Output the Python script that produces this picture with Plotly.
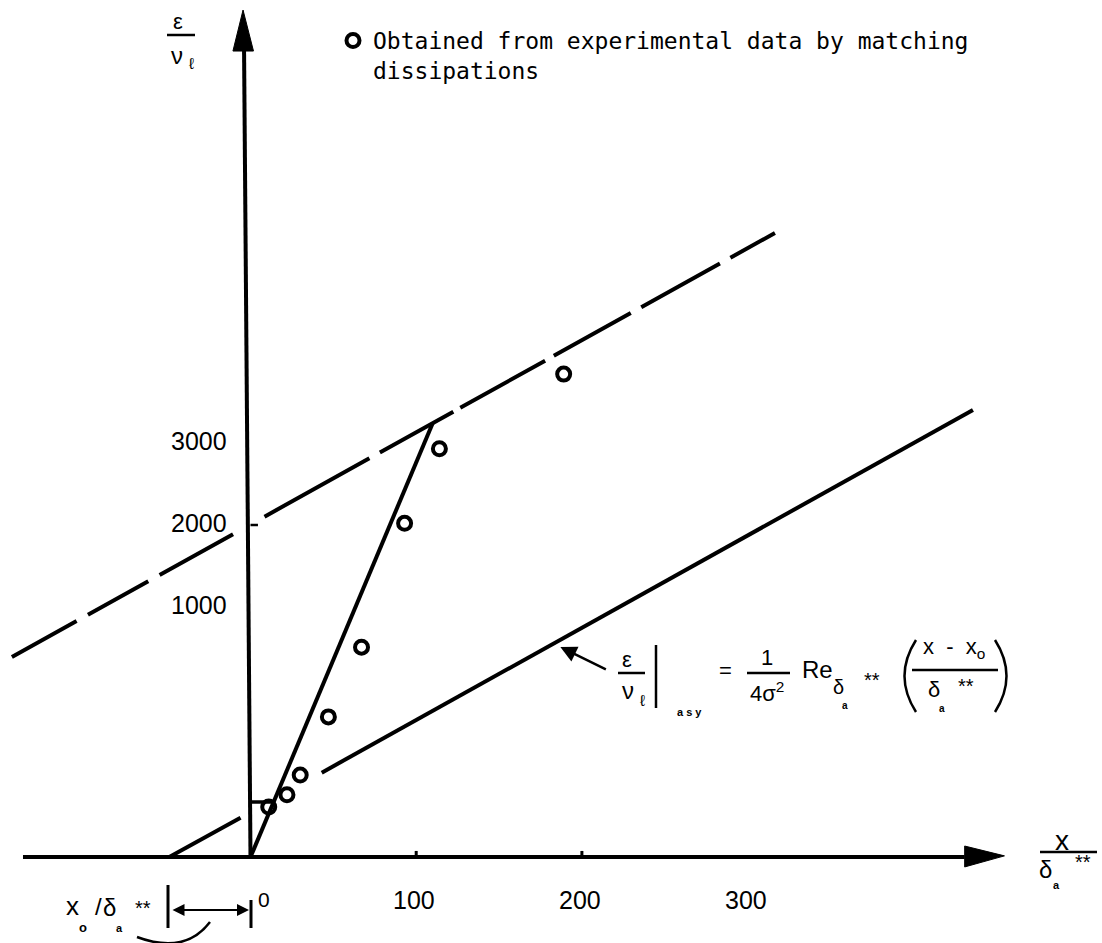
import plotly.graph_objects as go

# ---------------- data ----------------
X_TICKS = [100, 200, 300]
X_TICK_LABELS = ["100", "200", "300"]
Y_TICKS = [1000, 2000, 3000]
Y_TICK_LABELS = ["1000", "2000", "3000"]

# experimental points (x/delta**, eps/nu)
PT_X = [11, 22, 30, 47, 67, 93, 114, 189]
PT_Y = [-1440, -1290, -1050, -340, 510, 2020, 2930, 3840]

# level at which the abscissa is drawn
Y_BASE = -2050

# steep solid line from origin
STEEP_X = [0, 110]
STEEP_Y = [-2050, 3245]
# short horizontal marker from ordinate to steep line
HMARK_X = [0, 13.6]
HMARK_Y = [-1378, -1378]

# asymptote (solid, with a gap near the origin)
ASY1_X = [-49, -6]
ASY1_Y = [-2050, -1571]
ASY2_X = [43, 436]
ASY2_Y = [-1020, 3402]

# parallel dashed line
DASH_X = [-144, 316.5]
DASH_Y = [390, 5561]

# ---------------- geometry / layout ----------------
W, H = 1102, 943
X0_PX, X_SCALE = 250.5, 1.657      # px of x=0, px per unit
Y0_PX, Y_SCALE = 689.0, 0.082      # px of y=0, px per unit
X_RANGE = [(0 - X0_PX) / X_SCALE, (W - X0_PX) / X_SCALE]
Y_RANGE = [(Y0_PX - H) / Y_SCALE, (Y0_PX - 0) / Y_SCALE]

SANS = "Liberation Sans, Arial, sans-serif"
MONO = "DejaVu Sans Mono, monospace"
LW = 4


def P(px, py):
    return px / W, 1 - py / H


fig = go.Figure()


def line(xs, ys, width=LW, dash=None):
    fig.add_trace(go.Scatter(x=xs, y=ys, mode="lines", showlegend=False,
                             hoverinfo="skip",
                             line=dict(color="black", width=width, dash=dash)))


# axes (drawn as lines with filled arrowheads)
Y_TOP = 7817
line([0, -3.9], [Y_BASE, Y_TOP])
fig.add_trace(go.Scatter(x=[-4.5, -10.6, 1.8, -4.5], y=[8280, 7780, 7780, 8280],
                         mode="lines", fill="toself", fillcolor="black",
                         line=dict(color="black", width=1), showlegend=False,
                         hoverinfo="skip"))
X_LEFT, X_ARROW_BASE, X_TIP = -137.3, 431, 455
line([X_LEFT, X_ARROW_BASE], [Y_BASE, Y_BASE])
fig.add_trace(go.Scatter(x=[X_TIP, X_ARROW_BASE, X_ARROW_BASE, X_TIP],
                         y=[-2035, -1915, -2170, -2035],
                         mode="lines", fill="toself", fillcolor="black",
                         line=dict(color="black", width=1), showlegend=False,
                         hoverinfo="skip"))

# small tick marks
for v in X_TICKS[:2]:
    line([v, v], [Y_BASE, Y_BASE + 75], width=3)
line([0, 4.5], [2000, 2000], width=2.5)

# lines
line(STEEP_X, STEEP_Y)
line(HMARK_X, HMARK_Y, width=3.5)
line(ASY1_X, ASY1_Y)
line(ASY2_X, ASY2_Y)
line(DASH_X, DASH_Y,
     dash="74px,13px,69px,13px,84px,36px,120px,12px,84px,8px,97px,10px,88px,12px,90px,12px,200px")

# points
fig.add_trace(go.Scatter(
    x=PT_X, y=PT_Y, mode="markers",
    name="Obtained from experimental data by matching<br>dissipations",
    marker=dict(symbol="circle-open", size=13, color="black",
                line=dict(color="black", width=4)),
    showlegend=True))

ann = []
# tick labels
for v, t in zip(Y_TICKS, Y_TICK_LABELS):
    ann.append(dict(x=0, y=v, xref="x", yref="y", text=t, showarrow=False,
                    xanchor="right", yanchor="middle", xshift=-22, yshift=2,
                    font=dict(family=SANS, size=25, color="black")))
for v, t in zip(X_TICKS, X_TICK_LABELS):
    ann.append(dict(x=v, y=Y_BASE, xref="x", yref="y", text=t, showarrow=False,
                    xanchor="center", yanchor="middle", yshift=-43, xshift=-2,
                    font=dict(family=SANS, size=25, color="black")))


def txt(px, py, s, size=24, family=SANS, **kw):
    x, y = P(px, py)
    d = dict(x=x, y=y, xref="paper", yref="paper", text=s, showarrow=False,
             xanchor="center", yanchor="middle",
             font=dict(family=family, size=size, color="black"))
    d.update(kw)
    ann.append(d)


shapes = []


def seg(x1, y1, x2, y2, w=2.5):
    a, b = P(x1, y1)
    c, d = P(x2, y2)
    shapes.append(dict(type="line", xref="paper", yref="paper", x0=a, y0=b,
                       x1=c, y1=d, line=dict(color="black", width=w)))


def curve(p1, pc, p2, w=2.5):
    a = P(*p1)
    c = P(*pc)
    b = P(*p2)
    shapes.append(dict(type="path", xref="paper", yref="paper",
                       path=f"M {a[0]},{a[1]} Q {c[0]},{c[1]} {b[0]},{b[1]}",
                       line=dict(color="black", width=w)))


# y-axis label
txt(178, 22, "ε", 22)
seg(167, 35, 195, 35, 2.5)
txt(177, 55, "ν", 24)
txt(191, 64, "ℓ", 16)

# x-axis label
txt(1062, 840, "x", 28)
seg(1040, 852, 1097, 852, 2.5)
txt(1045, 869, "δ", 24)
txt(1056, 885, "<b>a</b>", 11)
txt(1083, 862, "**", 20)

# x0 annotation at lower left
txt(72, 906, "x", 26)
txt(83, 927, "<b>o</b>", 13)
txt(98, 906, "/", 24)
txt(110, 907, "δ", 24)
txt(119, 928, "<b>a</b>", 11)
txt(143, 908, "**", 20)
seg(168, 885, 168, 928, 3)
seg(251, 900, 251, 928, 3)
txt(264, 899, "0", 21)
ax0, ay0 = P(249, 910)
ann.append(dict(x=ax0, y=ay0, xref="paper", yref="paper", text="",
                showarrow=True, ax=-78, ay=0, arrowside="end+start",
                arrowhead=2, startarrowhead=2, arrowsize=1.2, startarrowsize=1.2,
                arrowwidth=2, arrowcolor="black"))
curve((137, 937), (185, 955), (210, 922))

# equation with arrow
ann.append(dict(x=187, y=512, xref="x", yref="y", text="", showarrow=True,
                ax=47, ay=23, arrowhead=2, arrowsize=1.3, arrowwidth=2.5,
                arrowcolor="black"))
txt(627, 659, "ε", 22)
seg(618, 673, 645, 673, 2.5)
txt(628, 690, "ν", 24)
txt(642, 700, "ℓ", 16)
seg(656, 645, 656, 708, 2.5)
txt(689, 712, "<b>a s y</b>", 11)
txt(725, 670, "=", 22)
txt(767, 657, "1", 22)
seg(747, 673, 790, 673, 2.5)
txt(767, 692, "4σ<sup>2</sup>", 22)
txt(817, 669, "Re", 24)
txt(838, 687, "δ", 20)
txt(845, 705, "<b>a</b>", 10)
txt(872, 680, "**", 20)
curve((916, 640), (893, 676), (916, 712), 2.5)
curve((995, 640), (1018, 676), (995, 712), 2.5)
txt(954, 648, "x  -  x<sub>o</sub>", 22)
seg(912, 670, 998, 670, 2.5)
txt(934, 689, "δ", 22)
txt(942, 708, "<b>a</b>", 10)
txt(966, 686, "**", 20)

lx, ly = P(333, 19)
fig.update_layout(
    width=W, height=H,
    margin=dict(l=0, r=0, t=0, b=0),
    paper_bgcolor="white", plot_bgcolor="white",
    xaxis=dict(range=X_RANGE, visible=False, fixedrange=True),
    yaxis=dict(range=Y_RANGE, visible=False, fixedrange=True),
    showlegend=True,
    legend=dict(x=lx, y=ly, xanchor="left", yanchor="top", valign="top",
                bgcolor="rgba(0,0,0,0)",
                font=dict(family=MONO, size=23, color="black")),
    annotations=ann, shapes=shapes,
)

fig.write_html("out.html")
